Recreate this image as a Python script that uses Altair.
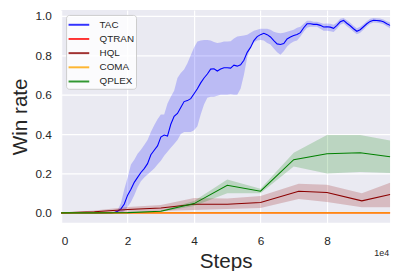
import altair as alt
import pandas as pd

# ---------------- data ----------------
series_names = ["TAC", "QTRAN", "HQL", "COMA", "QPLEX"]
series_colors = ["#0000ff", "#ff0000", "#8b0000", "#ffa500", "#008000"]

tac_steps = [0, 5000, 10000, 15000] + [k * 1000 for k in range(16, 100)]
tac_mean = [0, 0, 0, 0,
            0.002, 0.008, 0.02, 0.045, 0.09, 0.12, 0.155, 0.18, 0.205, 0.225,
            0.25, 0.295, 0.318, 0.34, 0.385, 0.395, 0.39, 0.45, 0.49, 0.505,
            0.535, 0.565, 0.57, 0.58, 0.605, 0.63, 0.66, 0.685, 0.705, 0.73,
            0.732, 0.72, 0.73, 0.737, 0.737, 0.735, 0.75, 0.745, 0.752, 0.775,
            0.815, 0.84, 0.875, 0.895, 0.905, 0.912, 0.905, 0.893, 0.875, 0.858,
            0.855, 0.86, 0.883, 0.893, 0.9, 0.906, 0.915, 0.94, 0.96, 0.96,
            0.957, 0.957, 0.952, 0.944, 0.945, 0.943, 0.937, 0.952, 0.97, 0.977,
            0.963, 0.95, 0.935, 0.922, 0.93, 0.945, 0.96, 0.972, 0.978, 0.977,
            0.975, 0.97, 0.96, 0.952]
tac_hi = [0, 0, 0, 0,
          0.005, 0.015, 0.05, 0.12, 0.18, 0.245, 0.27, 0.30, 0.32, 0.345,
          0.37, 0.41, 0.445, 0.475, 0.5, 0.5, 0.555, 0.59, 0.62, 0.685,
          0.71, 0.728, 0.76, 0.80, 0.84, 0.87, 0.875, 0.878, 0.878, 0.875,
          0.868, 0.862, 0.865, 0.87, 0.87, 0.872, 0.885, 0.895, 0.898, 0.9,
          0.905, 0.915, 0.925, 0.93, 0.935, 0.935, 0.935, 0.93, 0.92, 0.915,
          0.912, 0.914, 0.92, 0.925, 0.93, 0.94, 0.945, 0.96, 0.975, 0.975,
          0.97, 0.97, 0.965, 0.96, 0.962, 0.96, 0.955, 0.967, 0.985, 0.99,
          0.978, 0.965, 0.95, 0.937, 0.945, 0.958, 0.973, 0.985, 0.99, 0.988,
          0.987, 0.982, 0.973, 0.967]
tac_lo = [0, 0, 0, 0,
          0, 0, 0.002, 0.008, 0.03, 0.055, 0.09, 0.13, 0.16, 0.18,
          0.195, 0.21, 0.225, 0.245, 0.265, 0.29, 0.31, 0.33, 0.35, 0.37,
          0.4, 0.41, 0.41, 0.41, 0.42, 0.44, 0.50, 0.55, 0.585, 0.59,
          0.59, 0.595, 0.6, 0.6, 0.6, 0.602, 0.6, 0.6, 0.63, 0.7,
          0.79, 0.84, 0.865, 0.875, 0.878, 0.875, 0.862, 0.855, 0.835, 0.815,
          0.803, 0.82, 0.845, 0.86, 0.87, 0.875, 0.895, 0.92, 0.94, 0.945,
          0.945, 0.945, 0.935, 0.925, 0.925, 0.922, 0.918, 0.935, 0.955, 0.963,
          0.948, 0.935, 0.92, 0.907, 0.915, 0.93, 0.947, 0.96, 0.966, 0.965,
          0.963, 0.958, 0.947, 0.937]

hql_steps = [0, 10000, 20000, 30000, 40000, 50000, 60000, 71500, 80000, 90500, 99000]
hql_mean = [0, 0.006, 0.017, 0.025, 0.044, 0.044, 0.053, 0.11, 0.103, 0.061, 0.093]
hql_lo = [0, 0.001, 0.006, 0.01, 0.015, 0.02, 0.025, 0.07, 0.055, 0.028, 0.028]
hql_hi = [0, 0.012, 0.03, 0.04, 0.075, 0.073, 0.085, 0.148, 0.143, 0.1, 0.153]

qplex_steps = [0, 10000, 20000, 30000, 40000, 50000, 60000, 70000, 80000, 90000, 99000]
qplex_mean = [0, 0, 0.001, 0.008, 0.047, 0.14, 0.11, 0.27, 0.30, 0.305, 0.285]
qplex_lo = [0, 0, 0.0, 0.004, 0.035, 0.10, 0.10, 0.235, 0.2, 0.208, 0.203]
qplex_hi = [0, 0, 0.002, 0.012, 0.06, 0.17, 0.123, 0.305, 0.395, 0.395, 0.367]

flat_steps = [0, 10000, 20000, 30000, 40000, 50000, 60000, 70000, 80000, 90000, 99000]
qtran_mean = [0] * len(flat_steps)
coma_mean = [0] * len(flat_steps)

x_ticks = [0, 20000, 40000, 60000, 80000]
y_ticks = [0.0, 0.2, 0.4, 0.6, 0.8, 1.0]

# ---------------- tables ----------------
def frame(name, steps, mean, lo=None, hi=None):
    d = {"series": name, "step": steps, "mean": mean}
    if lo is not None:
        d["lo"] = lo
        d["hi"] = hi
    return pd.DataFrame(d)

df_tac = frame("TAC", tac_steps, tac_mean, tac_lo, tac_hi)
df_qtran = frame("QTRAN", flat_steps, qtran_mean)
df_hql = frame("HQL", hql_steps, hql_mean, hql_lo, hql_hi)
df_coma = frame("COMA", flat_steps, coma_mean)
df_qplex = frame("QPLEX", qplex_steps, qplex_mean, qplex_lo, qplex_hi)

color_of = dict(zip(series_names, series_colors))
color_scale = alt.Scale(domain=series_names, range=series_colors)
x_scale = alt.Scale(domain=[0, 99000], nice=False, zero=False)
y_scale = alt.Scale(domain=[-0.05, 1.03], nice=False, zero=False)

x_enc = alt.X("step:Q", scale=x_scale,
              axis=alt.Axis(values=x_ticks, labelExpr="datum.value / 10000",
                            title="Steps", grid=True, labelPadding=13,
                            titlePadding=4))
y_enc = alt.Y("mean:Q", scale=y_scale,
              axis=alt.Axis(values=y_ticks, format=".1f", title="Win rate",
                            grid=True, labelPadding=10, titlePadding=5))

legend = alt.Legend(title=None, orient="top-left", offset=5,
                    symbolType="M-1.5,0H1.5", symbolSize=196,
                    symbolStrokeWidth=2, symbolOpacity=0.8, symbolOffset=3,
                    labelFontSize=10, labelColor="#262626",
                    labelOffset=13, rowPadding=1.4,
                    padding=2, fillColor="rgba(255,255,255,0.8)",
                    strokeColor="#cccccc", cornerRadius=3)


def band(df, name):
    return alt.Chart(df).mark_area(opacity=0.2, interpolate="linear",
                                   color=color_of[name]).encode(
        x=alt.X("step:Q", scale=x_scale),
        y=alt.Y("lo:Q", scale=y_scale),
        y2="hi:Q",
    )


def line(df, width=1.1):
    return alt.Chart(df).mark_line(strokeWidth=width).encode(
        x=x_enc,
        y=y_enc,
        color=alt.Color("series:N", scale=color_scale, legend=legend),
    )


note = alt.Chart(pd.DataFrame({"t": ["1e4"]})).mark_text(
    align="right", baseline="alphabetic", fontSize=9, color="#262626",
    font="Liberation Sans"
).encode(text="t:N", x=alt.value(333), y=alt.value(250))

chart = alt.layer(
    band(df_tac, "TAC"), line(df_tac),
    line(df_qtran),
    band(df_hql, "HQL"), line(df_hql),
    line(df_coma),
    band(df_qplex, "QPLEX"), line(df_qplex),
    note,
).properties(
    width=334, height=216,
    padding={"left": 54, "top": 0, "right": 5, "bottom": 47},
    autosize=alt.AutoSizeParams(type="none"),
    background="white",
).configure_view(
    fill="#eaeaf2", stroke=None
).configure_axis(
    domain=False, ticks=False, gridColor="white", gridWidth=1.2,
    labelFont="Liberation Sans", titleFont="Liberation Sans",
    labelFontSize=12, labelColor="#262626", titleColor="#262626",
    titleFontSize=21, titleFontWeight="normal",
).configure_legend(
    labelFont="Liberation Sans"
)

chart.save("out.html", embed_options={"renderer": "svg", "actions": False})
